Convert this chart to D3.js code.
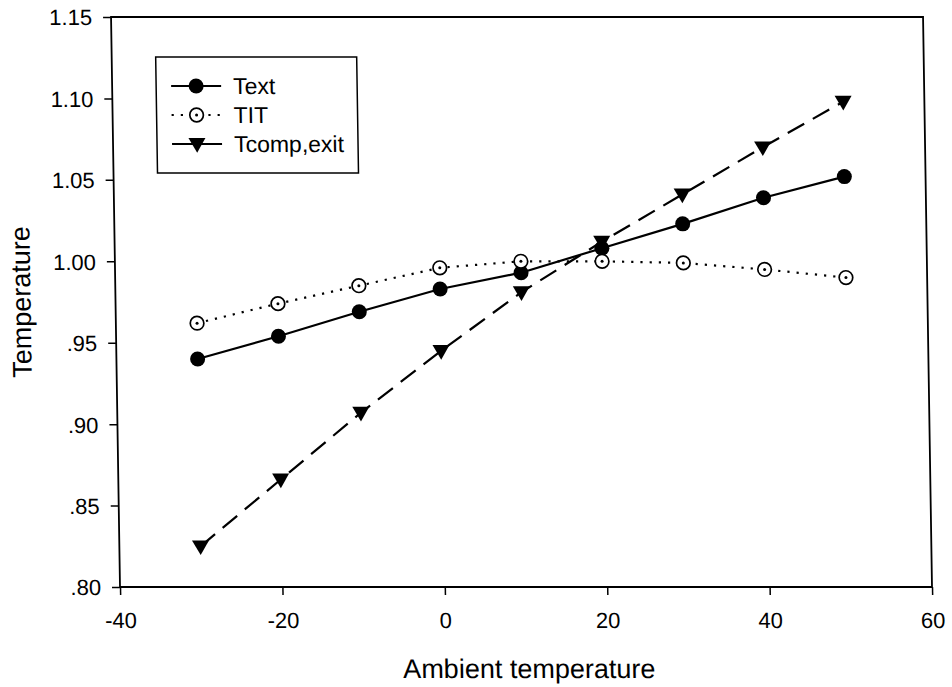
<!DOCTYPE html>
<html>
<head>
<meta charset="utf-8">
<script src="https://cdn.jsdelivr.net/npm/d3@7"></script>
<style>
  html, body { margin: 0; padding: 0; background: #fff; }
  svg { display: block; }
  text { font-family: "Liberation Sans", Arial, sans-serif; fill: #000; }
</style>
</head>
<body>
<svg id="chart" width="952" height="687"></svg>
<script>
// ---- data ----
const ambient = [-30, -20, -10, 0, 10, 20, 30, 40, 50];
const textSeries  = [0.940, 0.954, 0.969, 0.983, 0.993, 1.008, 1.023, 1.039, 1.052];
const titSeries   = [0.962, 0.974, 0.985, 0.996, 1.000, 1.000, 0.999, 0.995, 0.990];
const tcompSeries = [0.825, 0.866, 0.907, 0.945, 0.981, 1.012, 1.041, 1.070, 1.098];
const seriesNames = ["Text", "TIT", "Tcomp,exit"];
const xTicks = [-40, -20, 0, 20, 40, 60];
const yTicks = [0.80, 0.85, 0.90, 0.95, 1.00, 1.05, 1.10, 1.15];
const xTitle = "Ambient temperature";
const yTitle = "Temperature";

(function () {
// ---- layout ----
const pLeft = 120, pRight = 932, pTop = 17, pBottom = 587;
const skewDeg = 0.9;
const k = Math.tan(skewDeg * Math.PI / 180);

const svg = d3.select("#chart");
svg.append("rect").attr("width", 952).attr("height", 687).attr("fill", "#fff");

const g = svg.append("g")
  .attr("transform", `translate(${-pBottom * k},0) skewX(${skewDeg})`);

const x = d3.scaleLinear().domain([-40, 60]).range([pLeft, pRight]);
const y = d3.scaleLinear().domain([0.80, 1.15]).range([pBottom, pTop]);

const fmtY = v => {
  const s = v.toFixed(2);
  return s.startsWith("0") ? s.slice(1) : s;
};
const fmtX = v => String(v); // plain hyphen-minus

// axes
const xAxis = g.append("g")
  .attr("transform", `translate(0,${pBottom})`)
  .call(d3.axisBottom(x).tickValues(xTicks).tickSize(8).tickSizeOuter(0).tickFormat(fmtX));
xAxis.select(".domain").remove();
xAxis.selectAll("line").attr("stroke", "#000").attr("stroke-width", 1.5);
xAxis.selectAll("text").attr("y", 41).attr("dy", 0)
  .attr("font-size", 22).attr("font-family", "Liberation Sans, Arial, sans-serif").attr("fill", "#000");

const yAxis = g.append("g")
  .attr("transform", `translate(${pLeft},0)`)
  .call(d3.axisLeft(y).tickValues(yTicks).tickSize(8).tickSizeOuter(0).tickPadding(11).tickFormat(fmtY));
yAxis.select(".domain").remove();
yAxis.selectAll("line").attr("stroke", "#000").attr("stroke-width", 1.5);
yAxis.selectAll("text").attr("dy", "0.36em")
  .attr("font-size", 22).attr("font-family", "Liberation Sans, Arial, sans-serif").attr("fill", "#000");

// frame
g.append("rect")
  .attr("x", pLeft).attr("y", pTop)
  .attr("width", pRight - pLeft).attr("height", pBottom - pTop)
  .attr("fill", "none").attr("stroke", "#000").attr("stroke-width", 1.8);

// titles
g.append("text")
  .attr("x", (pLeft + pRight) / 2 + 2).attr("y", 678)
  .attr("text-anchor", "middle").attr("font-size", 27)
  .text(xTitle);
g.append("text")
  .attr("transform", `translate(35,${(pTop + pBottom) / 2}) rotate(-90)`)
  .attr("text-anchor", "middle").attr("font-size", 27)
  .text(yTitle);

// lines
const line = d3.line().x(d => x(d[0])).y(d => y(d[1]));
const zip = vals => ambient.map((a, i) => [a, vals[i]]);

const styles = [
  { vals: textSeries, dash: null, width: 2.2 },
  { vals: titSeries, dash: "2.2,7", width: 2.2 },
  { vals: tcompSeries, dash: "19,10", width: 2.2 }
];

styles.forEach(s => {
  g.append("path")
    .datum(zip(s.vals))
    .attr("d", line)
    .attr("fill", "none")
    .attr("stroke", "#000")
    .attr("stroke-width", s.width)
    .attr("stroke-dasharray", s.dash);
});

// markers
const tri = d3.symbol().type(d3.symbolTriangle).size(125)();

function drawMarker(sel, type) {
  if (type === 0) {
    sel.append("circle").attr("r", 7.5).attr("fill", "#000");
  } else if (type === 1) {
    sel.append("circle").attr("r", 6.8).attr("fill", "#fff").attr("stroke", "#000").attr("stroke-width", 1.7);
    sel.append("circle").attr("r", 1.5).attr("fill", "#000");
  } else {
    sel.append("path").attr("d", tri).attr("transform", "translate(0,-1) rotate(180)").attr("fill", "#000");
  }
}

styles.forEach((s, si) => {
  zip(s.vals).forEach(d => {
    const m = g.append("g").attr("transform", `translate(${x(d[0])},${y(d[1])})`);
    drawMarker(m, si);
  });
});

// legend
const lg = g.append("g");
lg.append("rect")
  .attr("x", 164).attr("y", 57).attr("width", 201).attr("height", 116)
  .attr("fill", "#fff").attr("stroke", "#000").attr("stroke-width", 1.5);
const rowsY = [86, 115, 144];
seriesNames.forEach((name, i) => {
  const ry = rowsY[i];
  lg.append("line")
    .attr("x1", 179).attr("x2", 229).attr("y1", ry).attr("y2", ry)
    .attr("stroke", "#000").attr("stroke-width", styles[i].width)
    .attr("stroke-dasharray", i === 1 ? "2.2,7" : null);
  const m = lg.append("g").attr("transform", `translate(204,${ry})`);
  drawMarker(m, i);
  lg.append("text")
    .attr("x", 241).attr("y", ry).attr("dy", "0.36em")
    .attr("font-size", 23)
    .text(name);
});
})();
</script>
</body>
</html>
